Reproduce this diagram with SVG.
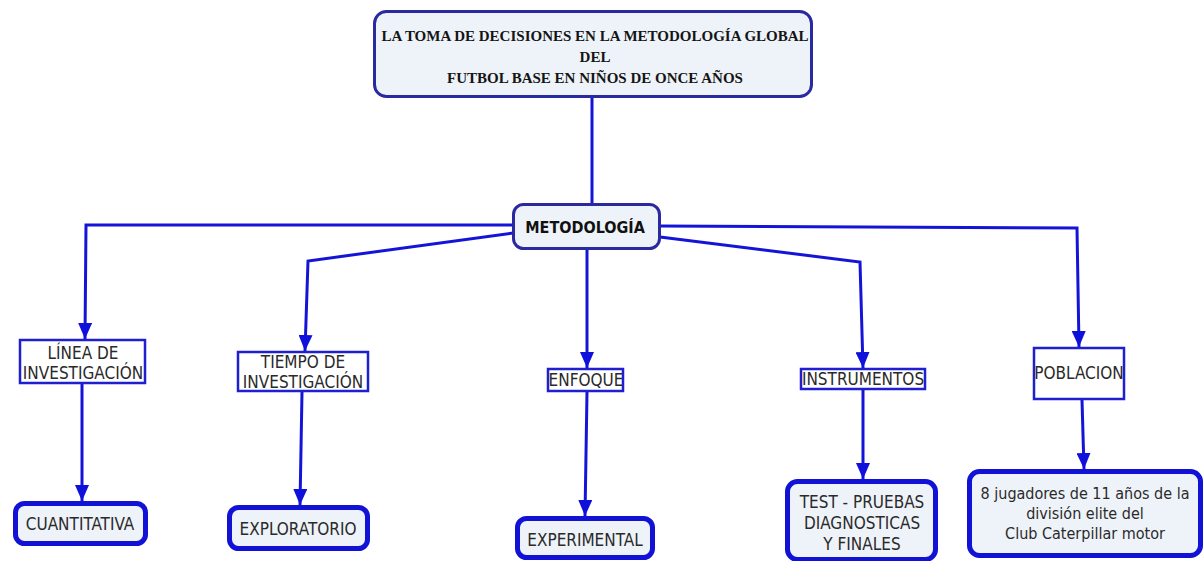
<svg xmlns="http://www.w3.org/2000/svg" width="1204" height="561" viewBox="0 0 1204 561">
<defs>
<marker id="arr" markerUnits="userSpaceOnUse" viewBox="0 0 16 14" markerWidth="16" markerHeight="14" refX="16" refY="7" orient="auto">
<path d="M0,0 L16,7 L0,14 z" fill="#1010dc"/>
</marker>
<style>
.conn{fill:none;stroke:#1414d8;stroke-width:3;marker-end:url(#arr)}
.plain{fill:none;stroke:#1414d8;stroke-width:3}
.main{fill:#eef3f9;stroke:#2a2aa0;stroke-width:3}
.mid{fill:#ffffff;stroke:#1f1fd0;stroke-width:2.5}
.leaf{fill:#eef3f9;stroke:#1212d6;stroke-width:5}
.title{font-family:"Liberation Serif","Times New Roman",serif;font-weight:bold;font-size:15px;fill:#151515;text-anchor:middle}
.t{font-family:"DejaVu Sans Condensed","DejaVu Sans",sans-serif;font-size:17px;fill:#2a2a2a;text-anchor:middle}
.tl{font-family:"DejaVu Sans Condensed","DejaVu Sans",sans-serif;font-size:16px;fill:#2a2a2a;text-anchor:middle}
.tb{font-family:"DejaVu Sans Condensed","DejaVu Sans",sans-serif;font-size:16px;font-weight:bold;fill:#111;text-anchor:middle}
</style>
</defs>
<rect width="1204" height="561" fill="#ffffff"/>
<g id="connectors">
<path class="plain" d="M592,98 L592,204"/>
<path class="conn" d="M513,225 L86,225 L85,339"/>
<path class="conn" d="M513,233 L308,261 L305,351"/>
<path class="conn" d="M587,249 L587,368"/>
<path class="conn" d="M660,237 L860,262 L863,368"/>
<path class="conn" d="M660,226 L1077,228 L1079,347"/>
<path class="conn" d="M82,384 L82,501"/>
<path class="conn" d="M302,392 L300,505"/>
<path class="conn" d="M587,392 L585,516"/>
<path class="conn" d="M863,389 L863,479"/>
<path class="conn" d="M1082,400 L1084,469"/>
</g>
<g id="n-title">
<rect class="main" x="374.5" y="11.5" width="437" height="85" rx="12"/>
<text class="title" x="595" y="41">LA TOMA DE DECISIONES EN LA METODOLOGÍA GLOBAL</text>
<text class="title" x="595" y="62">DEL</text>
<text class="title" x="595" y="83">FUTBOL BASE EN NIÑOS DE ONCE AÑOS</text>
</g>
<g id="n-metodologia">
<rect class="main" x="513.5" y="204.5" width="146" height="44" rx="10"/>
<text class="tb" x="585" y="233">METODOLOGÍA</text>
</g>
<g id="n-linea">
<rect class="mid" x="20" y="340" width="125" height="43"/>
<text class="t" x="83" y="359">LÍNEA DE</text>
<text class="t" x="83" y="379">INVESTIGACIÓN</text>
</g>
<g id="n-tiempo">
<rect class="mid" x="238" y="352" width="130" height="39"/>
<text class="t" x="303" y="368">TIEMPO DE</text>
<text class="t" x="303" y="388">INVESTIGACIÓN</text>
</g>
<g id="n-enfoque">
<rect class="mid" x="548" y="369" width="75" height="22"/>
<text class="t" x="586" y="386">ENFOQUE</text>
</g>
<g id="n-instrumentos">
<rect class="mid" x="801" y="369" width="124" height="20"/>
<text class="t" x="863" y="385">INSTRUMENTOS</text>
</g>
<g id="n-poblacion">
<rect class="mid" x="1034" y="348" width="90" height="51"/>
<text class="t" x="1079" y="379">POBLACION</text>
</g>
<g id="n-cuantitativa">
<rect class="leaf" x="15.5" y="503.5" width="130" height="40" rx="9"/>
<text class="t" x="80" y="530">CUANTITATIVA</text>
</g>
<g id="n-exploratorio">
<rect class="leaf" x="229.5" y="507.5" width="138" height="41" rx="9"/>
<text class="t" x="298" y="535">EXPLORATORIO</text>
</g>
<g id="n-experimental">
<rect class="leaf" x="517.5" y="518.5" width="135" height="39" rx="9"/>
<text class="t" x="585" y="546">EXPERIMENTAL</text>
</g>
<g id="n-test">
<rect class="leaf" x="787.5" y="481.5" width="148" height="78" rx="10"/>
<text class="t" x="862" y="508">TEST - PRUEBAS</text>
<text class="t" x="862" y="529">DIAGNOSTICAS</text>
<text class="t" x="862" y="550">Y FINALES</text>
</g>
<g id="n-jugadores">
<rect class="leaf" x="969.5" y="471.5" width="231" height="84" rx="10"/>
<text class="tl" x="1085" y="499">8 jugadores de 11 años de la</text>
<text class="tl" x="1085" y="519">división elite del</text>
<text class="tl" x="1085" y="539">Club Caterpillar motor</text>
</g>
</svg>
